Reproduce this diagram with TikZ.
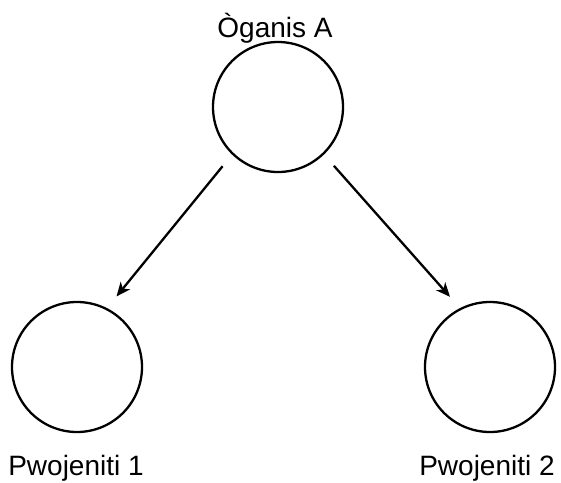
\documentclass[tikz,border=0pt]{standalone}
\usepackage{fontspec}
\setmainfont{Liberation Sans}
\usetikzlibrary{arrows.meta}
\begin{document}
\begin{tikzpicture}[x=1pt,y=-1pt,
  org/.style={circle,draw,line width=2.3pt,minimum size=130pt,inner sep=0pt},
  lbl/.style={font=\fontsize{28}{33}\selectfont,inner sep=0pt,anchor=base},
  arr/.style={line width=2.3pt,-{Stealth[length=14pt,width=12pt,inset=4pt]},shorten <=15pt,shorten >=15pt}]
\useasboundingbox (0,0) rectangle (561,482);
\node[org] (top) at (278,107) {};
\node[org] (left) at (77,367) {};
\node[org] (right) at (490,367) {};
\node[lbl] (tl) at (275,37) {Òganis A};
\node[lbl] (ll) at (76,475) {Pwojeniti 1};
\node[lbl] (rl) at (487,475) {Pwojeniti 2};
\draw[arr] (top.226) -- (left.63);
\draw[arr] (top.314) -- (right.117);
\end{tikzpicture}
\end{document}
